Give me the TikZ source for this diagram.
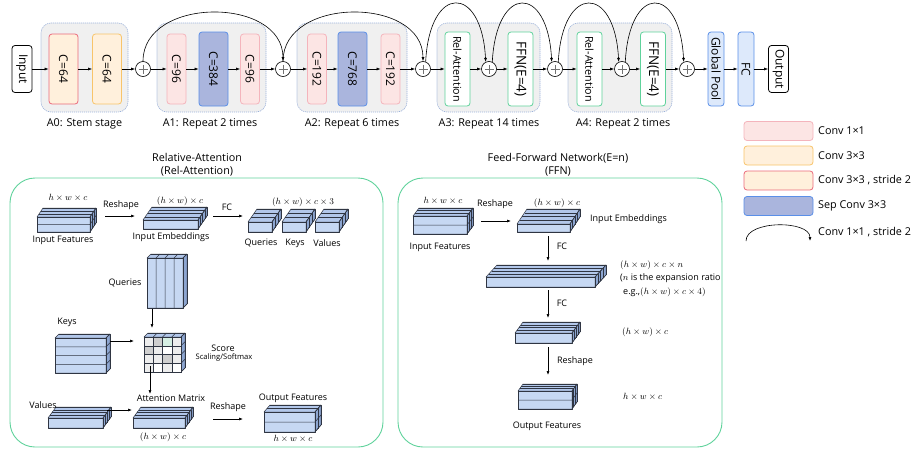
\documentclass[tikz,border=0pt]{standalone}
\usepackage{fontspec}
\setmainfont{Open Sans}
\usetikzlibrary{arrows.meta}

\definecolor{grpfill}{HTML}{F0F0F0}
\definecolor{grpline}{HTML}{9CB2DA}
\definecolor{pinkfill}{HTML}{FCE5E4}
\definecolor{pinkline}{HTML}{F4B4BC}
\definecolor{orfill}{HTML}{FFF0DC}
\definecolor{orline}{HTML}{F8C46A}
\definecolor{redline}{HTML}{EB6A7B}
\definecolor{sepfill}{HTML}{AAB5DD}
\definecolor{blueline}{HTML}{5A8FE8}
\definecolor{lbfill}{HTML}{DDE9FB}
\definecolor{attgreen}{HTML}{5FD29B}
\definecolor{cubefront}{HTML}{C6D8F3}
\definecolor{cubetop}{HTML}{B2C7EA}
\definecolor{cubeside}{HTML}{8DA6D1}
\definecolor{cubeline}{HTML}{2F3542}
\definecolor{cellA}{HTML}{EDEDED}
\definecolor{cellB}{HTML}{CFCFCF}
\definecolor{cellG}{HTML}{D6EFE3}

% front corner (#1,#2), front size #3 x #4, depth (#5,#6), rows, columns, slices
\newcommand{\slab}[9]{%
  \filldraw[cube, fill=cubetop] (#1,#2) -- ++(#3,0) -- ++(#5,#6) -- ++(-#3,0) -- cycle;
  \filldraw[cube, fill=cubeside] ({#1+#3},#2) -- ++(#5,#6) -- ++(0,#4) -- ++({-(#5)},{-(#6)}) -- cycle;
  \filldraw[cube, fill=cubefront] (#1,#2) rectangle ++(#3,#4);
  \foreach \i in {1,...,#7}
    \draw[cube] (#1,{#2+\i*(#4)/#7}) -- ++(#3,0) -- ++(#5,#6);
  \foreach \k in {1,...,#8}
    \draw[cube] ({#1+\k*(#3)/#8},#2) -- ++(0,#4) ++(0,{-(#4)}) -- ++(#5,#6);
  \foreach \j in {1,...,#9}
    \draw[cube] ({#1+\j*(#5)/#9},{#2+\j*(#6)/#9}) -- ++(#3,0) -- ++(0,#4);
}

\begin{document}
\begin{tikzpicture}[x=1pt, y=-1pt,
  arr/.style={-{Latex[length=4pt,width=3pt]}, line width=0.6pt},
  blk/.style={draw, rounded corners=3pt, rotate=-90, inner sep=0pt, line width=0.8pt,
    font=\fontsize{12}{14}\selectfont},
  convA/.style={blk, fill=pinkfill, draw=pinkline, minimum width=70pt, minimum height=19pt},
  convB/.style={blk, fill=orfill, draw=orline, minimum width=70pt, minimum height=29pt},
  convS/.style={blk, fill=orfill, draw=redline, minimum width=70pt, minimum height=29pt},
  sepc/.style={blk, fill=sepfill, draw=blueline, minimum width=74pt, minimum height=29pt},
  attn/.style={blk, fill=white, draw=attgreen, minimum width=74pt, minimum height=25pt},
  headc/.style={blk, fill=lbfill, draw=blueline, minimum width=74pt, minimum height=16pt},
  term/.style={blk, fill=white, draw=black, minimum width=47pt, minimum height=20pt},
  plus/.style={circle, draw, fill=white, minimum size=15pt, inner sep=0pt, line width=0.6pt,
    path picture={\draw[black!55, line width=0.5pt]
      ([xshift=-4.5pt]path picture bounding box.center) -- ([xshift=4.5pt]path picture bounding box.center)
      ([yshift=-4.5pt]path picture bounding box.center) -- ([yshift=4.5pt]path picture bounding box.center);}},
  grp/.style={draw=grpline, fill=grpfill, rounded corners=10pt, dash pattern=on 1.2pt off 0.8pt,
    line width=0.6pt, minimum height=89pt},
  big/.style={font=\fontsize{10.8}{13}\selectfont, inner sep=0pt},
  lbl/.style={font=\fontsize{9}{11}\selectfont, inner sep=0pt},
  tiny/.style={font=\fontsize{7.6}{9}\selectfont, inner sep=0pt},
  dim/.style={font=\fontsize{9}{11}\selectfont, inner sep=0pt},
  legbox/.style={draw, rounded corners=3pt, line width=0.8pt, minimum width=69pt, minimum height=19pt},
  panel/.style={draw=attgreen, line width=0.9pt, rounded corners=25pt},
  cube/.style={draw=cubeline, line width=0.5pt, line join=round}]
\useasboundingbox (0,0) rectangle (919,450);

% stage groups
\node[grp, minimum width=87pt] (g0) at (84.5,67.5) {};
\node[grp, minimum width=109pt] (g1) at (211.5,67.5) {};
\node[grp, minimum width=110pt] (g2) at (352,67.5) {};
\node[grp, minimum width=103pt] (g3) at (488.5,67.5) {};
\node[grp, minimum width=104pt] (g4) at (620,67.5) {};
\node[big] (g0l) at (84.5,124) {A0: Stem stage};
\node[big] (g1l) at (210,124) {A1: Repeat 2 times};
\node[big] (g2l) at (352,124) {A2: Repeat 6 times};
\node[big] (g3l) at (489,124) {A3: Repeat 14 times};
\node[big] (g4l) at (623,124) {A4: Repeat 2 times};

% main path
\node[term] (in) at (22,69) {Input};
\node[convS] (s1) at (63.5,69) {C=64};
\node[convB] (s2) at (107,69) {C=64};
\node[plus] (p1) at (143,69) {};
\node[convA] (a1) at (176.5,69) {C=96};
\node[sepc] (b1) at (213.5,69) {C=384};
\node[convA] (c1) at (250,69) {C=96};
\node[plus] (p2) at (283,69) {};
\node[convA] (a2) at (317,69) {C=192};
\node[sepc] (b2) at (352.5,69) {C=768};
\node[convA] (c2) at (390.5,69) {C=192};
\node[plus] (p3) at (423,69) {};
\node[attn, font=\fontsize{10.8}{12}\selectfont] (r3) at (457.5,69) {Rel-Attention};
\node[plus] (p4) at (489,69) {};
\node[attn, font=\fontsize{13.5}{15}\selectfont] (f3) at (520.5,69) {FFN(E=4)};
\node[plus] (p5) at (555,69) {};
\node[attn, font=\fontsize{10.8}{12}\selectfont] (r4) at (589.5,69) {Rel-Attention};
\node[plus] (p6) at (622,69) {};
\node[attn, font=\fontsize{13.5}{15}\selectfont] (f4) at (653,69) {FFN(E=4)};
\node[plus] (p7) at (687,69) {};
\node[headc] (gp) at (716,69) {Global Pool};
\node[headc] (fc) at (746,69) {FC};
\node[term] (out) at (778.5,69) {Output};

\foreach \a/\b in {in/s1, s1/s2, s2/p1, p1/a1, a1/b1, b1/c1, c1/p2, p2/a2, a2/b2, b2/c2, c2/p3,
    p3/r3, r3/p4, p4/f3, f3/p5, p5/r4, r4/p6, p6/f4, f4/p7, p7/gp, gp/fc, fc/out}
  \draw[arr] (\a) -- (\b);

% shortcuts
\draw[arr] (p1.north) .. controls +(0,-65) and +(0,-65) .. (p2.north);
\draw[arr] (p2.north) .. controls +(0,-65) and +(0,-65) .. (p3.north);
\draw[arr] (p3.70) .. controls +(4,-78) and +(-4,-78) .. (p4.115);
\draw[arr] (p4.65) .. controls +(4,-78) and +(-4,-78) .. (p5.115);
\draw[arr] (p5.65) .. controls +(4,-78) and +(-4,-78) .. (p6.115);
\draw[arr] (p6.65) .. controls +(4,-78) and +(-4,-78) .. (p7.115);

% legend
\node[legbox, fill=pinkfill, draw=pinkline] (k1) at (778.5,131) {};
\node[legbox, fill=orfill, draw=orline] (k2) at (778.5,155.5) {};
\node[legbox, fill=orfill, draw=redline] (k3) at (778.5,180.5) {};
\node[legbox, fill=sepfill, draw=blueline] (k4) at (778.5,206) {};
\node[big, anchor=west] (k1t) at (818,131) {Conv 1×1};
\node[big, anchor=west] (k2t) at (818,155.5) {Conv 3×3};
\node[big, anchor=west] (k3t) at (818,180.5) {Conv 3×3 , stride 2};
\node[big, anchor=west] (k4t) at (818,206) {Sep Conv 3×3};
\coordinate (k5a) at (746,241);
\coordinate (k5b) at (810,241);
\draw[arr] (k5a) .. controls +(0,-21) and +(0,-21) .. (k5b);
\node[big, anchor=west] (k5t) at (818,232) {Conv 1×1 , stride 2};

% Rel-Attention panel
\node[big, align=center] (ttlL) at (197,164.5) {Relative-Attention\\(Rel-Attention)};
\draw[panel] (10,178) rectangle (383,447);
\slab{37}{217}{53}{15}{6}{-9}{2}{1}{3}
\slab{143}{220}{55}{9}{9}{-13}{1}{1}{4}
\slab{248}{222}{24}{10}{9}{-13}{1}{1}{3}
\slab{282}{222}{24}{10}{9}{-13}{1}{1}{3}
\slab{315}{222}{24}{10}{9}{-13}{1}{1}{3}
\slab{147}{258}{36}{50}{4}{-4}{1}{4}{1}
\slab{55}{338}{51}{35}{4}{-4}{4}{1}{1}
\slab{144}{337}{37}{35}{4}{-4}{4}{4}{1}
\foreach \c/\r/\s in {0/0/cellA, 1/0/cellB, 2/0/cellG, 3/0/cellA, 0/1/cellB, 1/1/cellA, 2/1/white, 3/1/cellA,
    0/2/cellA, 1/2/cellA, 2/2/cellB, 3/2/cellA, 0/3/cellA, 1/3/white, 2/3/cellA, 3/3/white}
  \filldraw[cube, fill=\s] ({144+\c*9.25},{337+\r*8.75}) rectangle ++(9.25,8.75);
\slab{48}{418}{55}{10}{8}{-11}{1}{1}{4}
\slab{133}{418}{52}{10}{8}{-11}{1}{1}{4}
\slab{264}{412}{51}{20}{6}{-7}{2}{1}{2}

\node[dim] (lifd) at (68,198) {$h\times w\times c$};
\node[lbl] (lif) at (63,240) {Input Features};
\node[lbl] (lrs) at (121,205) {Reshape};
\node[dim] (lied) at (180,201) {$(h\times w)\times c$};
\node[lbl] (lie) at (171,237) {Input Embeddings};
\node[lbl] (lfc) at (227,207) {FC};
\node[dim] (lqkvd) at (303,202) {$(h\times w)\times c\times 3$};
\node[lbl] (lq) at (261,243) {Queries};
\node[lbl] (lk) at (295,243) {Keys};
\node[lbl] (lv) at (327,243) {Values};
\node[lbl] (lq2) at (125,283) {Queries};
\node[lbl] (lk2) at (67,322) {Keys};
\node[lbl] (lsc) at (223,348) {Score};
\node[tiny] (lsm) at (224,358) {Scaling/Softmax};
\node[lbl] (lam) at (171,398) {Attention Matrix};
\node[lbl] (lv2) at (43,405) {Values};
\node[dim] (lamd) at (163,437) {$(h\times w)\times c$};
\node[lbl] (lrs2) at (228,407) {Reshape};
\node[lbl] (lof) at (293,398) {Output Features};
\node[dim] (lofd) at (293,439) {$h\times w\times c$};

% FFN panel
\node[big, align=center] (ttlR) at (558,164.5) {Feed-Forward Network(E=n)\\(FFN)};
\draw[panel] (398,178) rectangle (722,447);
\slab{413}{216}{54}{18}{6}{-8}{2}{1}{3}
\slab{517}{224}{53}{8}{10}{-15}{1}{1}{4}
\slab{486}{277}{109}{10}{11}{-12}{1}{1}{4}
\slab{515}{333}{57}{10}{8}{-11}{1}{1}{4}
\slab{518}{391}{54}{18}{5}{-7}{2}{1}{3}

\node[dim] (rifd) at (443,201) {$h\times w\times c$};
\node[lbl] (rif) at (440,247) {Input Features};
\node[lbl] (rrs) at (495,204) {Reshape};
\node[dim] (ried) at (557,203) {$(h\times w)\times c$};
\node[lbl, anchor=west] (rie) at (590,219) {Input Embeddings};
\node[lbl] (rfc) at (562,246) {FC};
\node[dim, anchor=west] (rwd1) at (620,265) {$(h\times w)\times c\times n$};
\node[lbl, anchor=west] (rwd2) at (620,278) {($n$ is the expansion ratio};
\node[lbl, anchor=west] (rwd3) at (623,292) {e.g.,$(h\times w)\times c\times 4)$};
\node[lbl] (rfc2) at (562,303) {FC};
\node[dim, anchor=west] (rnd) at (622,332) {$(h\times w)\times c$};
\node[lbl] (rrs2) at (575,361) {Reshape};
\node[dim, anchor=west] (rofd) at (623,397) {$h\times w\times c$};
\node[lbl] (rof) at (547,426) {Output Features};

% arrows of both panels
\coordinate (lrA) at (105,216); \coordinate (lrB) at (135,216);
\coordinate (lfA) at (213,216); \coordinate (lfB) at (243,216);
\coordinate (lqA) at (152,309); \coordinate (lqB) at (152,328);
\coordinate (lkA) at (110,341); \coordinate (lkB) at (134,341);
\coordinate (lsA) at (150,366); \coordinate (lsB) at (150,394);
\coordinate (lvA) at (107,410); \coordinate (lvB) at (132,410);
\coordinate (loA) at (213,419); \coordinate (loB) at (243,419);
\coordinate (rrA) at (481,221); \coordinate (rrB) at (511,221);
\coordinate (rfA) at (548,236); \coordinate (rfB) at (548,261);
\coordinate (rgA) at (548,290); \coordinate (rgB) at (548,318);
\coordinate (rhA) at (548,347); \coordinate (rhB) at (548,375);
\foreach \a in {lr, lf, lq, lk, ls, lv, lo, rr, rf, rg, rh}
  \draw[arr] (\a A) -- (\a B);
\end{tikzpicture}
\end{document}
